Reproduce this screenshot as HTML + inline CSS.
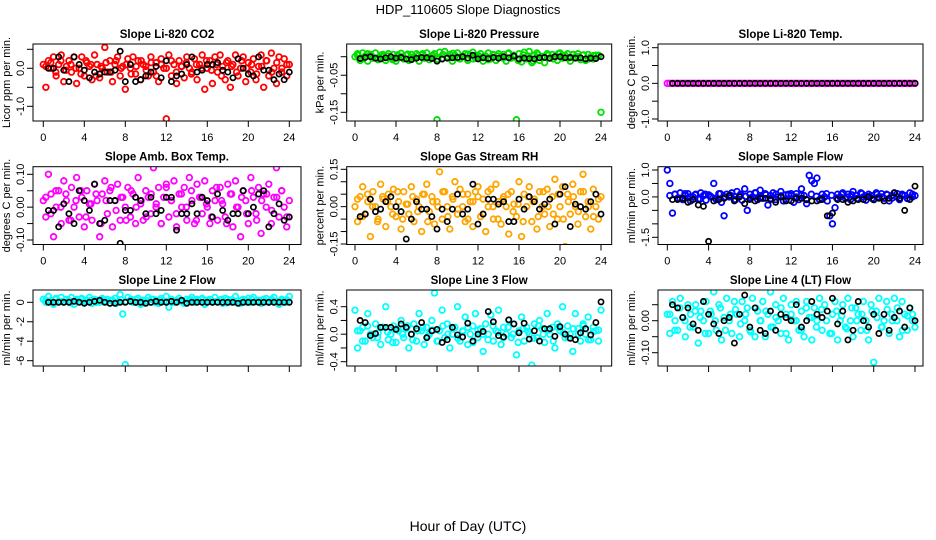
<!DOCTYPE html>
<html><head><meta charset="utf-8"><title>HDP_110605 Slope Diagnostics</title>
<style>
html,body{margin:0;padding:0;background:#fff;}
svg{display:block;font-family:"Liberation Sans",Arial,sans-serif;}
</style></head>
<body>
<svg id="chart" width="936" height="540" viewBox="0 0 936 540" xmlns="http://www.w3.org/2000/svg">
<text x="468" y="14" text-anchor="middle" font-size="13">HDP_110605  Slope Diagnostics</text>
<text x="468" y="531" text-anchor="middle" font-size="14">Hour of Day (UTC)</text>
</svg>
<script>
const xTicks=[0,4,8,12,16,20,24];
const co2Main=[0.1,-0.5,0.2,0.0,0.3,-0.2,0.1,0.35,-0.35,0.05,0.2,-0.1,0.3,-0.4,0.0,0.3,-0.2,0.15,0.05,-0.3,0.35,0.1,-0.25,0.0,0.55,-0.1,0.2,-0.35,0.1,0.3,-0.2,0.05,-0.55,0.25,0.0,0.3,-0.15,0.2,-0.3,0.1,0.05,-0.2,0.3,-0.1,0.15,-0.35,0.25,0.0,-1.33,0.35,-0.2,0.1,-0.4,0.2,0.05,-0.25,0.3,0.0,-0.1,0.25,-0.3,0.1,0.35,-0.55,0.0,0.2,-0.4,0.3,-0.1,0.35,0.05,-0.3,0.2,-0.5,0.1,0.35,-0.2,0.0,0.3,-0.35,0.15,-0.1,0.25,-0.3,0.05,0.35,-0.5,0.2,-0.2,0.4,0.0,-0.4,0.3,-0.1,0.25,-0.2,0.1];
const co2Core=[0.05,0.15,-0.1,0.2,-0.05,0.1,0.0,-0.15,0.2,0.1,-0.2,0.05,0.15,-0.1,0.2,0.0,0.1,-0.15,0.05,0.2,-0.05,0.15,-0.2,0.1,0.0,0.2,-0.1,0.05,0.15,-0.15,0.1,0.0,0.2,-0.05,0.1,-0.2,0.15,0.05,-0.1,0.2,0.0,0.1,-0.15,0.05,0.2,-0.1,0.15,0.0,0.1];
const co2Ref=[0.0,0.0,0.3,-0.05,-0.35,0.3,0.1,-0.05,-0.25,-0.1,-0.15,-0.1,-0.1,-0.05,0.45,-0.35,0.1,-0.35,-0.3,-0.2,-0.1,0.05,-0.25,0.2,-0.35,-0.2,-0.15,0.1,0.3,-0.1,-0.05,0.1,0.1,0.15,-0.05,-0.1,-0.25,0.25,0.0,-0.15,-0.2,0.3,-0.05,-0.05,-0.3,-0.15,-0.3,-0.1];
const presMain=[0.0,0.008,-0.01,0.01,0.002,-0.012,0.006,-0.004,0.01,-0.008,0.004,0.0,-0.01,0.008,-0.004,0.006,-0.012,0.002,0.009,-0.006,0.004,-0.01,0.006,0.0,0.008,-0.012,0.004,-0.004,0.01,-0.008,0.002,0.008,-0.17,0.012,-0.006,0.014,0.0,0.006,-0.012,0.004,0.01,-0.006,0.0,0.008,-0.01,0.004,0.012,-0.004,0.0,0.008,-0.012,0.002,0.01,-0.006,0.004,-0.01,0.008,0.0,0.006,-0.012,0.01,-0.004,0.004,-0.17,0.008,-0.014,0.012,-0.006,0.014,-0.016,0.004,0.01,-0.01,0.0,-0.016,0.008,-0.004,0.006,0.0,-0.01,0.01,-0.004,0.004,0.008,-0.012,0.006,0.0,0.008,-0.008,0.004,-0.01,0.006,0.0,-0.006,0.004,0.002,-0.15];
const presCore=[0.004,-0.006,0.008,0.0,-0.004,0.006,0.002,-0.008,0.005,0.0,0.007,-0.005,0.003,0.008,-0.002,0.004,-0.007,0.006,0.0,0.009,-0.004,0.002,0.007,-0.006,0.004,0.0,-0.008,0.006,0.002,-0.004,0.008,0.0,-0.01,0.005,0.002,-0.012,0.006,0.0,0.004,-0.006,0.008,0.002,-0.004,0.006,0.0,0.005,-0.006,0.003,0.004];
const presRef=[-0.005,-0.002,0.0,-0.004,-0.006,-0.003,0.0,-0.004,-0.002,-0.006,-0.008,-0.004,-0.002,-0.003,-0.005,-0.012,-0.006,-0.004,-0.003,-0.002,0.0,-0.004,0.004,-0.006,-0.003,-0.005,-0.002,-0.004,0.0,-0.003,0.002,-0.006,-0.004,-0.005,-0.006,-0.003,-0.002,-0.004,0.0,0.0,-0.003,-0.002,-0.004,-0.003,-0.006,-0.004,-0.005,0.0];
const tempMain=[0,0,0,0,0,0,0,0,0,0,0,0,0,0,0,0,0,0,0,0,0,0,0,0,0,0,0,0,0,0,0,0,0,0,0,0,0,0,0,0,0,0,0,0,0,0,0,0,0,0,0,0,0,0,0,0,0,0,0,0,0,0,0,0,0,0,0,0,0,0,0,0,0,0,0,0,0,0,0,0,0,0,0,0,0,0,0,0,0,0,0,0,0,0,0,0,0];
const tempCore=[];
const tempRef=[0,0,0,0,0,0,0,0,0,0,0,0,0,0,0,0,0,0,0,0,0,0,0,0,0,0,0,0,0,0,0,0,0,0,0,0,0,0,0,0,0,0,0,0,0,0,0,0];
const ambMain=[0.02,-0.03,0.1,0.04,-0.09,0.0,0.05,-0.05,0.08,0.02,-0.04,0.06,0.0,0.09,-0.03,0.03,-0.06,0.05,0.01,-0.04,0.07,0.02,-0.09,0.04,0.08,-0.02,0.05,-0.06,0.02,0.07,-0.04,0.03,0.0,0.06,-0.03,0.04,-0.05,0.09,0.01,-0.04,0.05,0.03,-0.02,0.12,0.0,0.06,-0.05,0.03,0.07,-0.03,0.02,0.08,-0.06,0.04,0.0,0.06,-0.04,0.09,0.02,-0.05,0.07,0.03,-0.02,0.08,0.0,-0.05,0.05,0.02,-0.04,0.06,0.01,-0.03,0.07,0.04,-0.06,0.08,0.0,-0.09,0.05,0.02,-0.05,0.09,0.03,-0.02,0.06,-0.08,0.04,0.0,0.07,-0.05,0.03,0.12,-0.03,0.05,0.0,-0.06,0.02];
const ambCore=[0.03,-0.02,0.05,0.0,0.04,-0.04,0.02,0.05,-0.03,0.01,0.04,-0.05,0.02,0.06,-0.01,0.03,-0.04,0.05,0.0,0.02,-0.03,0.04,0.01,-0.05,0.06,0.02,-0.02,0.04,0.0,0.05,-0.04,0.03,0.01,-0.03,0.06,0.02,-0.05,0.04,0.0,0.03,-0.02,0.05,-0.04,0.02,0.04,-0.01,0.03,0.05,-0.03];
const ambRef=[-0.01,-0.01,-0.06,0.01,-0.02,-0.05,0.05,0.02,-0.01,0.07,-0.05,-0.04,0.02,0.02,-0.11,-0.01,-0.01,0.03,0.02,-0.02,0.03,-0.02,-0.01,0.03,0.03,-0.07,-0.02,-0.02,0.01,-0.02,0.03,0.02,-0.03,0.04,-0.01,-0.04,-0.02,-0.02,0.05,-0.02,0.0,0.04,0.05,-0.06,-0.02,0.01,-0.04,-0.03];
const rhMain=[0.0,-0.06,0.04,0.08,-0.03,0.02,-0.12,0.06,0.0,-0.05,0.09,0.03,-0.08,0.05,0.0,0.07,-0.04,0.02,-0.09,0.06,0.01,-0.03,0.08,-0.06,0.03,0.0,-0.1,0.05,0.09,-0.02,0.04,-0.07,0.02,0.14,-0.05,0.06,0.0,-0.09,0.04,0.1,-0.03,0.07,0.0,-0.06,0.05,0.02,-0.08,0.06,0.08,-0.04,0.03,-0.1,0.0,0.07,-0.05,0.09,0.02,-0.07,0.04,0.0,-0.11,0.06,0.01,-0.04,0.1,-0.12,0.05,0.0,0.08,-0.06,0.03,-0.09,0.06,0.0,-0.03,0.07,-0.08,0.04,0.11,-0.05,0.0,0.08,-0.16,0.05,-0.03,0.09,0.0,-0.07,0.06,0.13,-0.04,0.02,-0.09,0.07,0.0,-0.05,0.04];
const rhCore=[0.03,-0.04,0.05,0.0,-0.06,0.04,0.02,-0.03,0.06,-0.05,0.01,0.04,-0.02,0.05,-0.06,0.02,0.0,0.06,-0.04,0.03,-0.01,0.05,-0.05,0.02,0.04,-0.03,0.06,0.0,-0.05,0.03,0.05,-0.02,0.01,-0.06,0.04,0.02,-0.04,0.06,0.0,-0.03,0.05,-0.05,0.02,0.04,-0.02,0.06,0.0,-0.04,0.03];
const rhRef=[-0.04,-0.03,0.03,-0.02,-0.01,0.02,0.04,0.0,-0.02,-0.13,-0.05,0.02,-0.01,-0.01,-0.04,-0.09,-0.01,-0.06,-0.01,0.05,-0.03,-0.01,0.09,-0.07,-0.03,0.03,0.03,0.01,0.02,-0.06,-0.06,0.03,-0.01,0.04,0.02,-0.01,0.01,0.03,-0.07,0.05,0.08,-0.08,0.01,0.0,-0.01,0.02,0.05,-0.03];
const flowMain=[1.0,0.5,-0.6,0.1,-0.05,0.15,-0.1,0.05,0.12,-0.15,0.0,0.1,-0.08,0.15,0.05,-0.12,0.08,0.0,0.5,-0.1,0.12,-0.2,-0.7,0.1,0.0,0.15,-0.1,0.2,0.05,-0.12,0.3,-0.5,0.1,0.0,0.15,-0.1,0.25,-0.05,0.12,-0.3,0.05,0.15,-0.1,0.0,0.2,-0.15,0.08,0.1,0.05,-0.2,0.12,-0.1,0.3,0.05,-0.25,0.8,0.6,0.5,0.7,-0.1,0.1,0.0,-0.15,-0.7,-1.0,-0.4,0.1,0.0,0.15,-0.05,0.1,-0.1,0.2,0.05,-0.08,0.15,0.0,-0.12,0.1,0.05,-0.1,0.15,0.0,0.12,-0.05,0.1,-0.15,0.05,0.15,0.0,-0.1,0.1,0.05,-0.05,0.15,0.0,0.05];
const flowCore=[0.05,0.1,-0.05,0.12,0.0,0.08,-0.08,0.1,0.03,-0.05,0.12,0.0,0.06,-0.1,0.1,0.02,-0.04,0.15,0.0,0.08,-0.06,0.1,0.04,-0.08,0.12,0.0,0.05,-0.1,0.1,0.02,-0.05,0.12,0.06,-0.04,0.1,0.0,0.08,-0.06,0.12,0.02,-0.05,0.1,0.0,0.08,-0.04,0.12,0.05,-0.06,0.1];
const flowRef=[-0.1,-0.1,-0.05,-0.2,-0.1,-0.3,-0.35,-1.65,-0.15,-0.1,-0.05,0.05,-0.15,0.0,-0.25,-0.1,-0.15,-0.05,-0.05,-0.1,-0.2,0.0,-0.15,-0.15,-0.05,-0.05,-0.1,-0.15,-0.15,-0.1,-0.7,-0.6,-0.1,-0.1,-0.2,-0.15,-0.1,-0.1,0.0,-0.1,-0.05,-0.15,-0.05,0.15,-0.05,-0.5,-0.1,0.4];
const l2Main=[0.3,0.0,0.6,0.2,-0.2,0.4,0.1,0.5,0.0,0.3,0.2,0.5,-0.2,0.3,0.1,0.4,0.0,0.2,0.5,-0.1,0.3,0.2,0.0,0.4,0.1,0.3,-0.1,0.2,0.4,0.0,0.8,-1.2,-6.4,0.5,0.2,0.0,0.3,0.4,-0.2,0.2,0.1,0.5,0.0,0.3,0.2,-0.1,0.4,0.1,0.6,-0.5,0.3,0.0,0.2,0.4,0.1,-0.1,0.3,0.2,0.5,0.0,0.3,0.1,0.4,-0.2,0.2,0.3,0.0,0.5,0.1,0.2,-0.1,0.4,0.3,0.0,0.2,0.6,0.1,-0.1,0.3,0.2,0.4,0.0,0.5,0.1,0.2,-0.1,0.3,0.4,0.0,0.2,0.5,0.1,-0.2,0.3,0.2,0.0,0.6];
const l2Core=[0.2,0.0,0.3,0.1,0.25,-0.05,0.15,0.3,0.05,0.2,0.0,0.3,0.1,0.2,-0.1,0.25,0.1,0.3,0.0,0.2,0.15,0.3,-0.05,0.2,0.1,0.3,0.05,0.2,0.0,0.25,0.15,0.3,0.0,0.2,0.1,0.3,-0.05,0.25,0.1,0.2,0.0,0.3,0.15,0.2,0.05,0.3,0.0,0.2,0.25];
const l2Ref=[0.0,0.0,0.0,0.0,0.0,0.1,0.0,-0.1,0.0,0.1,0.2,0.0,-0.1,-0.1,0.0,0.0,0.1,0.0,0.0,-0.1,0.0,0.1,0.0,0.0,0.1,0.0,0.2,-0.1,0.0,0.0,0.0,0.0,0.0,0.0,0.0,0.0,0.0,-0.1,0.0,0.0,0.0,0.0,0.0,0.0,0.0,0.0,0.0,0.0];
const l3Main=[0.35,-0.2,0.05,0.1,-0.1,0.3,0.0,-0.05,0.15,0.02,-0.15,0.1,0.4,-0.08,0.0,0.12,-0.12,0.05,0.2,-0.05,0.08,-0.2,0.0,0.15,-0.1,0.3,0.05,-0.15,0.1,0.0,0.2,0.6,-0.1,0.05,0.35,-0.05,0.15,-0.2,0.0,0.1,0.4,-0.1,0.05,0.25,-0.15,0.0,0.12,0.3,-0.05,0.08,-0.25,0.15,0.0,0.28,-0.1,0.05,0.35,-0.15,0.1,0.0,0.2,-0.05,0.15,-0.3,0.05,0.25,-0.1,0.1,0.0,-0.45,0.15,-0.05,0.2,0.08,-0.12,0.3,0.0,0.1,-0.2,0.15,0.05,0.4,-0.05,0.12,0.0,-0.25,0.3,0.08,-0.1,0.15,0.0,0.25,-0.08,0.1,0.05,-0.1,0.35];
const l3Core=[0.05,-0.1,0.12,0.0,-0.05,0.1,0.03,-0.12,0.08,0.0,0.12,-0.08,0.05,0.1,-0.03,0.06,-0.1,0.12,0.0,0.08,-0.06,0.04,0.1,-0.12,0.06,0.0,-0.08,0.12,0.03,-0.05,0.1,0.0,-0.12,0.08,0.04,-0.06,0.12,0.0,0.06,-0.1,0.1,0.02,-0.05,0.08,0.0,0.12,-0.08,0.04,0.06];
const l3Ref=[0.2,0.17,-0.02,0.01,0.1,0.1,0.1,0.07,0.15,0.1,0.0,0.08,0.17,-0.05,0.05,0.07,-0.12,-0.08,0.1,-0.01,-0.04,0.16,-0.1,0.0,0.04,0.33,0.18,-0.02,-0.04,0.21,0.15,0.02,0.16,-0.07,0.05,-0.1,0.08,0.08,-0.03,0.11,0.0,-0.06,-0.08,0.02,0.08,-0.01,0.17,0.47];
const l4Main=[0.02,-0.04,0.06,0.0,-0.03,0.07,0.01,-0.05,0.05,0.02,-0.02,0.05,-0.07,0.03,0.0,0.06,-0.04,0.02,0.09,-0.03,0.05,-0.06,0.01,0.07,0.0,-0.04,0.06,0.02,-0.05,0.06,0.0,0.04,-0.03,0.07,-0.05,0.03,0.0,0.06,-0.05,0.02,0.09,-0.02,0.05,0.0,-0.04,0.07,0.02,-0.06,0.05,0.0,0.06,-0.03,0.03,-0.05,0.06,0.01,-0.06,0.04,0.0,0.07,-0.03,0.05,0.16,-0.04,0.02,0.06,-0.06,0.0,0.05,-0.02,0.07,0.0,-0.05,0.04,0.02,-0.03,0.06,0.0,-0.06,0.05,-0.13,0.03,0.07,-0.02,0.0,0.06,-0.04,0.02,0.07,0.0,-0.05,0.06,0.02,-0.03,0.04,0.0,-0.02];
const l4Core=[0.02,-0.03,0.04,0.0,-0.02,0.03,0.01,-0.04,0.03,0.0,0.04,-0.03,0.02,0.035,-0.01,0.02,-0.035,0.04,0.0,0.03,-0.02,0.01,0.04,-0.04,0.02,0.0,-0.03,0.04,0.01,-0.02,0.035,0.0,-0.04,0.03,0.015,-0.025,0.04,0.0,0.02,-0.03,0.03,0.01,-0.02,0.035,0.0,0.04,-0.03,0.015,0.02];
const l4Ref=[0.05,0.04,0.01,0.04,-0.01,-0.03,0.06,0.02,-0.01,-0.04,0.0,0.01,-0.07,0.02,0.08,-0.02,0.04,-0.03,-0.04,0.03,-0.03,0.02,0.01,0.0,0.05,-0.02,0.0,0.06,0.02,0.01,0.03,0.07,-0.01,0.03,-0.06,-0.03,0.06,0.0,-0.02,0.02,-0.04,0.02,-0.03,0.01,0.03,-0.02,0.04,0.0];

const cols=[{l:33,r:301,x0:43.3,x24:289.3},{l:346.7,r:611.7,x0:355,x24:601},{l:658,r:923,x0:667.3,x24:915}];
const rows=[{t:44,b:121},{t:166.7,b:244.5},{t:290,b:366}];
const panels=[
 {name:'co2',title:'Slope Li-820 CO2',ylab:'Licor ppm per min.',c:0,r:0,color:'#ff0000',main:co2Main,core:co2Core,ref:co2Ref,ya:0.0,pa:68.3,yb:-1.0,pb:106.3,ticks:[0.5,0,-0.5,-1.0],labels:['','0.0','','-1.0']},
 {name:'pressure',title:'Slope Li-820 Pressure',ylab:'kPa per min.',c:1,r:0,color:'#00e000',main:presMain,core:presCore,ref:presRef,ya:0.0,pa:56.7,yb:-0.15,pb:112.3,ticks:[0,-0.05,-0.1,-0.15],labels:['','-0.05','','-0.15']},
 {name:'li820-temp',title:'Slope Li-820 Temp.',ylab:'degrees C per min.',c:2,r:0,color:'#ff00ff',main:tempMain,core:tempCore,ref:tempRef,ya:1.0,pa:47.7,yb:-1.0,pb:119,ticks:[1,0.5,0,-0.5,-1],labels:['1.0','','0.0','','-1.0']},
 {name:'amb-box-temp',title:'Slope Amb. Box Temp.',ylab:'degrees C per min.',c:0,r:1,color:'#ff00ff',main:ambMain,core:ambCore,ref:ambRef,ya:0.1,pa:174.3,yb:-0.1,pb:240,ticks:[0.1,0.05,0,-0.05,-0.1],labels:['0.10','','0.00','','-0.10']},
 {name:'gas-stream-rh',title:'Slope Gas Stream RH',ylab:'percent per min.',c:1,r:1,color:'#ffa500',main:rhMain,core:rhCore,ref:rhRef,ya:0.15,pa:169.3,yb:-0.15,pb:244,ticks:[0.15,0.1,0.05,0,-0.05,-0.1,-0.15],labels:['0.15','','','0.00','','','-0.15']},
 {name:'sample-flow',title:'Slope Sample Flow',ylab:'ml/min per min.',c:2,r:1,color:'#0000ff',main:flowMain,core:flowCore,ref:flowRef,ya:1.0,pa:170,yb:-1.5,pb:237.3,ticks:[1,0.5,0,-0.5,-1,-1.5],labels:['1.0','','0.0','','','-1.5']},
 {name:'line2-flow',title:'Slope Line 2 Flow',ylab:'ml/min per min.',c:0,r:2,color:'#00ffff',main:l2Main,core:l2Core,ref:l2Ref,ya:0,pa:302.3,yb:-6,pb:360.7,ticks:[0,-2,-4,-6],labels:['0','-2','-4','-6']},
 {name:'line3-flow',title:'Slope Line 3 Flow',ylab:'ml/min per min.',c:1,r:2,color:'#00ffff',main:l3Main,core:l3Core,ref:l3Ref,ya:0.4,pa:306.7,yb:-0.4,pb:361.7,ticks:[0.4,0.2,0,-0.2,-0.4],labels:['0.4','','0.0','','-0.4']},
 {name:'line4-flow',title:'Slope Line 4 (LT) Flow',ylab:'ml/min per min.',c:2,r:2,color:'#00ffff',main:l4Main,core:l4Core,ref:l4Ref,ya:0,pa:320.7,yb:-0.1,pb:352.7,ticks:[0.05,0,-0.05,-0.1],labels:['','0.00','','-0.10']}
];
const NS='http://www.w3.org/2000/svg';
const svg=document.getElementById('chart');
function mk(tag,attrs,parent){const e=document.createElementNS(NS,tag);for(const k in attrs)e.setAttribute(k,attrs[k]);(parent||svg).appendChild(e);return e;}
panels.forEach(p=>{
 const C=cols[p.c],R=rows[p.r];
 const xs=h=>C.x0+(C.x24-C.x0)*h/24;
 const ys=v=>p.pa+(v-p.ya)*(p.pb-p.pa)/(p.yb-p.ya);
 const g=mk('g',{});
 
 
 const cp=mk('clipPath',{id:'clip-'+p.name},g);
 mk('rect',{x:C.l,y:R.t,width:C.r-C.l,height:R.b-R.t},cp);
 const t=mk('text',{x:(C.l+C.r)/2,y:R.t-6,'text-anchor':'middle','font-size':'11.5','font-weight':'bold'},g);
 t.textContent=p.title;
 
 
 const yt=mk('text',{x:0,y:0,'text-anchor':'middle','font-size':'11',transform:`translate(${C.l-23},${(R.t+R.b)/2}) rotate(-90)`},g);
 yt.textContent=p.ylab;
 
 
 const pts=mk('g',{'clip-path':`url(#clip-${p.name})`},g);
 
 
 p.main.forEach((v,i)=>{
  const c=mk('circle',{cx:xs(i*24/(p.main.length-1)),cy:ys(v),r:2.8,fill:'none',stroke:p.color,'stroke-width':1.8},pts);
  
  
 });
 p.core.forEach((v,i)=>{
  const c=mk('circle',{cx:xs((i+0.5)*24/p.core.length),cy:ys(v),r:2.8,fill:'none',stroke:p.color,'stroke-width':1.8},pts);
  
  
 });
 p.ref.forEach((v,i)=>{
  const c=mk('circle',{cx:xs((i+1)*24/p.ref.length),cy:ys(v),r:2.6,fill:'none',stroke:'#000','stroke-width':1.7},pts);
  
  
 });
 const box=mk('rect',{x:C.l,y:R.t,width:C.r-C.l,height:R.b-R.t,fill:'none',stroke:'#000','stroke-width':1},g);
 
 
 mk('line',{x1:xs(0),x2:xs(24),y1:R.b,y2:R.b,stroke:'#000'},g);
 xTicks.forEach(h=>{
  mk('line',{x1:xs(h),x2:xs(h),y1:R.b,y2:R.b+6,stroke:'#000'},g);
  if(p.r<2){
   const tl=mk('text',{x:xs(h),y:R.b+20,'text-anchor':'middle','font-size':'11'},g);
   tl.textContent=h;
   
   
  }
 });
 const yv=p.ticks;
 mk('line',{x1:C.l,x2:C.l,y1:ys(yv[0]),y2:ys(yv[yv.length-1]),stroke:'#000'},g);
 yv.forEach((v,i)=>{
  const y=ys(v);
  mk('line',{x1:C.l-6,x2:C.l,y1:y,y2:y,stroke:'#000'},g);
  if(p.labels[i]){
   const tl=mk('text',{x:0,y:0,'text-anchor':'middle','font-size':'11',transform:`translate(${C.l-9},${y}) rotate(-90)`},g);
   tl.textContent=p.labels[i];
   
   
  }
 });
});
</script>
</body></html>
